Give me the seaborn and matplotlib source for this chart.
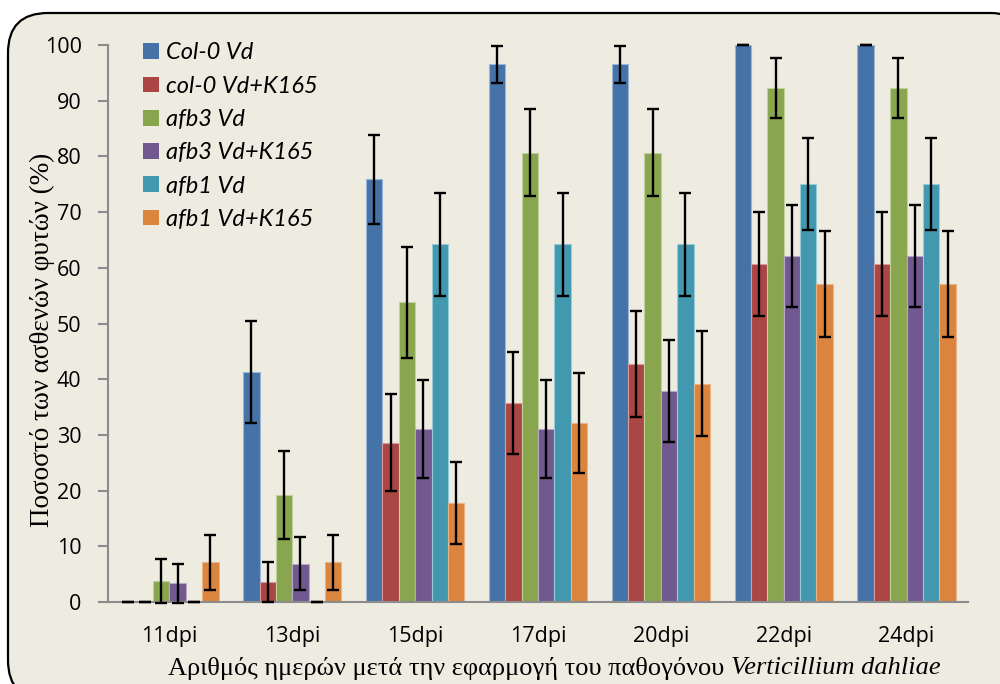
import numpy as np
import pandas as pd
import matplotlib
matplotlib.use("Agg")
import matplotlib.pyplot as plt
from matplotlib.patches import FancyBboxPatch
import seaborn as sns

days = ["11dpi", "13dpi", "15dpi", "17dpi", "20dpi", "22dpi", "24dpi"]
series = ["Col-0 Vd", "col-0 Vd+K165", "afb3 Vd", "afb3 Vd+K165", "afb1 Vd", "afb1 Vd+K165"]

col0_vd = [0, 41.3, 75.9, 96.5, 96.5, 100, 100]
col0_vd_k = [0, 3.6, 28.6, 35.7, 42.8, 60.7, 60.7]
afb3_vd = [3.8, 19.2, 53.8, 80.7, 80.7, 92.3, 92.3]
afb3_vd_k = [3.4, 6.9, 31.0, 31.0, 37.9, 62.1, 62.1]
afb1_vd = [0, 0, 64.2, 64.2, 64.2, 75.0, 75.0]
afb1_vd_k = [7.1, 7.1, 17.8, 32.1, 39.2, 57.1, 57.1]

col0_vd_err = [0, 9.2, 8.0, 3.4, 3.4, 0, 0]
col0_vd_k_err = [0, 3.6, 8.7, 9.2, 9.5, 9.4, 9.4]
afb3_vd_err = [3.9, 7.9, 10.0, 7.8, 7.8, 5.4, 5.4]
afb3_vd_k_err = [3.5, 4.7, 8.8, 8.8, 9.2, 9.2, 9.2]
afb1_vd_err = [0, 0, 9.2, 9.2, 9.2, 8.3, 8.3]
afb1_vd_k_err = [5.0, 5.0, 7.4, 9.0, 9.4, 9.5, 9.5]

values = [col0_vd, col0_vd_k, afb3_vd, afb3_vd_k, afb1_vd, afb1_vd_k]
errors = [col0_vd_err, col0_vd_k_err, afb3_vd_err, afb3_vd_k_err, afb1_vd_err, afb1_vd_k_err]
colors = ["#4572A7", "#AA4643", "#89A54E", "#71588F", "#4198AF", "#DB843D"]

ylabel = "Ποσοστό των ασθενών φυτών (%)"
xlabel_main = "Αριθμός ημερών μετά την εφαρμογή του παθογόνου "
xlabel_italic = "Verticillium dahliae"

rows = []
for s, vals in zip(series, values):
    for d, v in zip(days, vals):
        rows.append({"day": d, "series": s, "value": v})
df = pd.DataFrame(rows)

sns.set_theme(style="white")
plt.rcParams["font.family"] = ["Open Sans", "DejaVu Sans"]
plt.rcParams["text.color"] = "black"
plt.rcParams["xtick.labelcolor"] = "black"
plt.rcParams["ytick.labelcolor"] = "black"

W, H = 1000, 684
fig = plt.figure(figsize=(W / 100, H / 100), dpi=100)
fig.patch.set_facecolor("white")

bg = "#EEECE1"
frame = FancyBboxPatch((8 / W, 1 - 700 / H), (1030 - 8) / W, (700 - 13) / H,
                       boxstyle="round,pad=0,rounding_size=0.04",
                       transform=fig.transFigure, facecolor=bg, edgecolor="black",
                       linewidth=1.6, mutation_aspect=W / H, zorder=-10)
fig.patches.append(frame)

ax = fig.add_axes([108 / W, 1 - 602 / H, (968 - 108) / W, (602 - 45) / H])
ax.set_facecolor("none")
ax.set_zorder(1)

sns.barplot(data=df, x="day", y="value", hue="series", hue_order=series,
            order=days, palette=colors, errorbar=None, width=0.8,
            saturation=1, ax=ax, edgecolor="none", linewidth=0)

for cont, err, c in zip(ax.containers, errors, colors):
    xs = [p.get_x() + p.get_width() / 2 for p in cont.patches]
    hs = [p.get_height() for p in cont.patches]
    for p in cont.patches:
        p.set_edgecolor(sns.utils.set_hls_values(c, l=0.72))
        p.set_linewidth(0.8)
    ax.errorbar(xs, hs, yerr=err, fmt="none", ecolor="black", elinewidth=1.7,
                capsize=4.3, capthick=1.7, clip_on=False, zorder=5)

ax.set_ylim(0, 100)
ax.set_xlim(-0.5, len(days) - 0.5)
ax.set_yticks(np.arange(0, 101, 10))
ax.set_xticks(np.arange(len(days)))
ax.set_xticks(np.arange(len(days) + 1) - 0.5, minor=True)
ax.tick_params(axis="x", which="major", length=0, pad=17, labelsize=15.5, labelcolor="black")
ax.tick_params(axis="x", which="minor", length=8, width=1.5, color="#8C8C8C", direction="out")
ax.tick_params(axis="y", length=7, width=1.5, color="#8C8C8C", direction="out",
               pad=12, labelsize=15.5, left=True, labelcolor="black")
ax.set_xlabel("")
ax.set_ylabel("")
for side in ["top", "right"]:
    ax.spines[side].set_visible(False)
for side in ["left", "bottom"]:
    ax.spines[side].set_color("#8C8C8C")
    ax.spines[side].set_linewidth(1.5)

leg = ax.legend(loc="upper left", bbox_to_anchor=(134 / W, 1 - 33 / H),
                bbox_transform=fig.transFigure, frameon=False,
                prop={"family": "Lato", "style": "italic", "size": 17},
                handlelength=0.65, handleheight=0.65, handletextpad=0.3,
                labelspacing=0.52, borderaxespad=0, labelcolor="black")

fig.text(42 / W, 1 - 340 / H, ylabel, rotation=90, ha="center", va="center",
         family="Liberation Serif", fontsize=19.5, color="black")

fig.canvas.draw()
r = fig.canvas.get_renderer()
t1 = fig.text(0, 1 - 668 / H, xlabel_main, ha="left", va="center",
              family="Liberation Serif", fontsize=19, color="black")
t2 = fig.text(0, 1 - 668 / H, xlabel_italic, ha="left", va="center",
              family="Liberation Serif", style="italic", fontsize=19, color="black")
w1 = t1.get_window_extent(r).width
w2 = t2.get_window_extent(r).width
x0 = 554 - (w1 + w2) / 2
t1.set_x(x0 / W)
t2.set_x((x0 + w1) / W)

fig.savefig("out.png", dpi=100, facecolor="white")
